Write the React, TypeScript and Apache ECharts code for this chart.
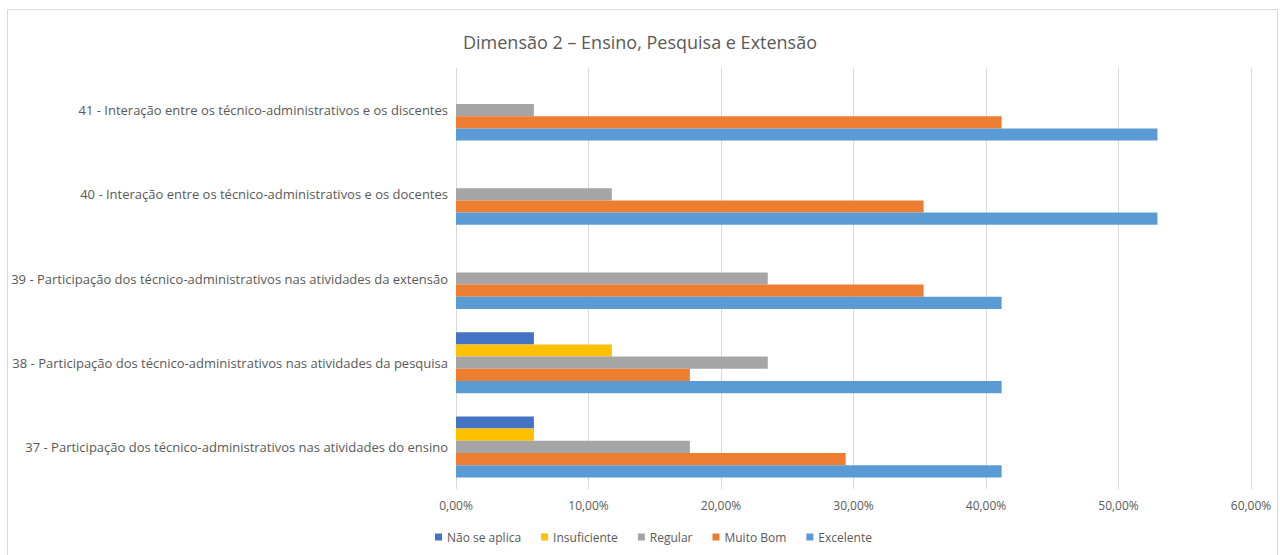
import React, { useEffect, useRef } from "react";
import * as echarts from "echarts";

const categories = [
  "37 - Participação dos técnico-administrativos nas atividades do ensino",
  "38 - Participação dos técnico-administrativos nas atividades da pesquisa",
  "39 - Participação dos técnico-administrativos nas atividades da extensão",
  "40 - Interação entre os técnico-administrativos e os docentes",
  "41 - Interação entre os técnico-administrativos e os discentes",
];

const naoSeAplica = [5.88, 5.88, 0, 0, 0];
const insuficiente = [5.88, 11.76, 0, 0, 0];
const regular = [17.65, 23.53, 23.53, 11.76, 5.88];
const muitoBom = [29.41, 17.65, 35.29, 35.29, 41.18];
const excelente = [41.18, 41.18, 41.18, 52.94, 52.94];

const seriesNames = ["Não se aplica", "Insuficiente", "Regular", "Muito Bom", "Excelente"];
const seriesColors = ["#4472C4", "#FFC000", "#A5A5A5", "#ED7D31", "#5B9BD5"];
const seriesData = [naoSeAplica, insuficiente, regular, muitoBom, excelente];

const FONT = "'Open Sans', Lato, sans-serif";

export default function App() {
  const ref = useRef<HTMLDivElement>(null);
  useEffect(() => {
    if (!ref.current) return;
    const chart = echarts.init(ref.current, null, { renderer: "svg" });
    chart.setOption({
      animation: false,
      backgroundColor: "#ffffff",
      textStyle: { fontFamily: FONT },
      title: {
        text: "Dimensão 2 – Ensino, Pesquisa e Extensão",
        left: "center",
        top: 28,
        textStyle: { fontFamily: FONT, fontSize: 18, fontWeight: "normal", color: "#595959" },
      },
      graphic: [
        {
          type: "rect",
          shape: { x: 7.5, y: 9.5, width: 1270, height: 560 },
          style: { fill: "none", stroke: "#d9d9d9", lineWidth: 1 },
          silent: true,
        },
      ],
      legend: {
        bottom: 7,
        left: 430,
        itemWidth: 7,
        itemHeight: 7,
        itemGap: 20,
        icon: "rect",
        textStyle: { fontFamily: FONT, fontSize: 12, color: "#595959" },
        data: seriesNames,
      },
      grid: { left: 456, right: 29, top: 68, bottom: 66, containLabel: false },
      xAxis: {
        type: "value",
        min: 0,
        max: 60,
        interval: 10,
        axisLine: { show: false },
        axisTick: { show: false },
        splitLine: { show: true, lineStyle: { color: "#d9d9d9", width: 1 } },
        axisLabel: {
          margin: 10,
          color: "#595959",
          fontFamily: FONT,
          fontSize: 12,
          formatter: (v: number) => v.toFixed(2).replace(".", ",") + "%",
        },
      },
      yAxis: {
        type: "category",
        data: categories,
        axisLine: { show: false },
        axisTick: { show: false },
        splitLine: { show: false },
        axisLabel: { margin: 8, color: "#595959", fontFamily: FONT, fontSize: 13 },
      },
      series: seriesNames.map((name, i) => ({
        name,
        type: "bar",
        data: seriesData[i],
        barWidth: 12.2,
        barGap: "0%",
        itemStyle: { color: seriesColors[i] },
      })),
    });
    return () => chart.dispose();
  }, []);
  return (
    <div
      ref={ref}
      style={{ position: "fixed", left: 0, top: 0, width: 1280, height: 555 }}
    />
  );
}
